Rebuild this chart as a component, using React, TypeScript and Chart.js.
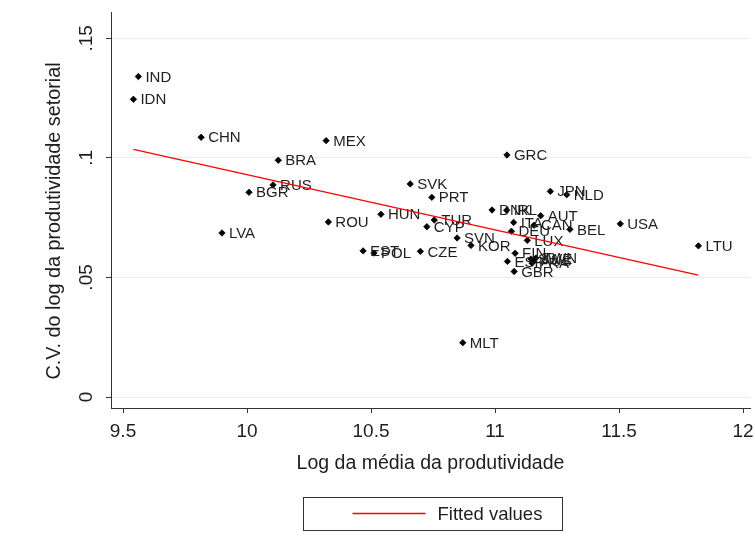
import React, { useEffect, useRef } from 'react';
import { Chart, registerables } from 'chart.js';

Chart.register(...registerables);

// ---- data ----
const countries = [
  'IND', 'IDN', 'CHN', 'MEX', 'BRA', 'RUS', 'BGR', 'LVA', 'ROU', 'SVK',
  'PRT', 'HUN', 'TUR', 'CYP', 'SVN', 'KOR', 'EST', 'POL', 'CZE', 'JPN',
  'NLD', 'DNK', 'IRL', 'AUT', 'ITA', 'CAN', 'DEU', 'BEL', 'USA', 'LUX',
  'FIN', 'ESP', 'GBR', 'SWE', 'AUS', 'FRA', 'TWN', 'GRC', 'MLT', 'LTU',
];
const logMean = [
  9.562, 9.542, 9.815, 10.319, 10.126, 10.105, 10.008, 9.899, 10.328, 10.658,
  10.745, 10.540, 10.755, 10.725, 10.847, 10.903, 10.468, 10.512, 10.699, 11.223,
  11.289, 10.988, 11.047, 11.184, 11.075, 11.157, 11.066, 11.302, 11.505, 11.130,
  11.081, 11.050, 11.077, 11.145, 11.157, 11.149, 11.165, 11.048, 10.870, 11.820,
];
const cvLog = [
  0.1340, 0.1245, 0.1086, 0.1072, 0.0990, 0.0887, 0.0856, 0.0686, 0.0732, 0.0891,
  0.0835, 0.0764, 0.0740, 0.0712, 0.0665, 0.0634, 0.0611, 0.0602, 0.0609, 0.0860,
  0.0846, 0.0782, 0.0781, 0.0758, 0.0730, 0.0718, 0.0693, 0.0701, 0.0724, 0.0655,
  0.0601, 0.0567, 0.0525, 0.0577, 0.0569, 0.0560, 0.0581, 0.1012, 0.0227, 0.0632,
];
const fitX = [9.542, 11.820];
const fitY = [0.1036, 0.0510];

const xTicks = [9.5, 10, 10.5, 11, 11.5, 12];
const xTickLabels = ['9.5', '10', '10.5', '11', '11.5', '12'];
const yTicks = [0, 0.05, 0.1, 0.15];
const yTickLabels = ['0', '.05', '.1', '.15'];

const xTitle = 'Log da média da produtividade';
const yTitle = 'C.V. do log da produtividade setorial';
const fitLabel = 'Fitted values';

// ---- styles ----
const FONT = "'Liberation Sans', Arial, Helvetica, sans-serif";
const TEXT = '#1e1e1e';
const AXIS = '#333333';
const GRID = '#e6eef0';

const overlayPlugin = {
  id: 'stataOverlay',
  afterDatasetDraw(chart: any, args: any) {
    if (args.index !== 0) return;
    const ctx = chart.ctx;
    ctx.save();
    ctx.font = `15px ${FONT}`;
    ctx.fillStyle = TEXT;
    ctx.textAlign = 'left';
    ctx.textBaseline = 'middle';
    args.meta.data.forEach((pt: any, i: number) => {
      ctx.fillText(countries[i], pt.x + 7, pt.y + 1);
    });
    ctx.restore();
  },
  afterDraw(chart: any) {
    const ctx = chart.ctx;
    const ys = chart.scales.y;
    const area = chart.chartArea;
    ctx.save();
    ctx.fillStyle = TEXT;
    // rotated y tick labels
    ctx.font = `19px ${FONT}`;
    ctx.textAlign = 'center';
    ctx.textBaseline = 'alphabetic';
    yTicks.forEach((v, i) => {
      const py = ys.getPixelForValue(v);
      ctx.save();
      ctx.translate(area.left - 19, py);
      ctx.rotate(-Math.PI / 2);
      ctx.fillText(yTickLabels[i], 0, 0);
      ctx.restore();
    });
    // y axis title
    ctx.font = `19.8px ${FONT}`;
    ctx.save();
    ctx.translate(area.left - 51, 221);
    ctx.rotate(-Math.PI / 2);
    ctx.fillText(yTitle, 0, 0);
    ctx.restore();
    // legend box
    const fit = chart.data.datasets[1];
    const bw = 259;
    const bh = 33;
    const bx = 303.5;
    const by = 497.5;
    ctx.strokeStyle = AXIS;
    ctx.lineWidth = 1;
    ctx.strokeRect(bx, by, bw, bh);
    ctx.strokeStyle = fit.borderColor;
    ctx.lineWidth = fit.borderWidth;
    ctx.beginPath();
    ctx.moveTo(bx + 49, by + 16);
    ctx.lineTo(bx + 122, by + 16);
    ctx.stroke();
    ctx.font = `18.5px ${FONT}`;
    ctx.textAlign = 'left';
    ctx.textBaseline = 'middle';
    ctx.fillText(fit.label, bx + 134, by + 17);
    ctx.restore();
  },
};

export default function App() {
  const canvasRef = useRef<HTMLCanvasElement | null>(null);

  useEffect(() => {
    const canvas = canvasRef.current;
    if (!canvas) return;
    const scatterData = logMean.map((x, i) => ({ x, y: cvLog[i] }));
    const fitData = fitX.map((x, i) => ({ x, y: fitY[i] }));

    const chart = new Chart(canvas, {
      type: 'scatter',
      data: {
        datasets: [
          {
            label: 'C.V.',
            data: scatterData,
            pointStyle: 'rectRot',
            pointRadius: 3.2,
            pointHoverRadius: 3.2,
            backgroundColor: '#000000',
            borderColor: '#000000',
            borderWidth: 0.8,
            order: 1,
          },
          {
            label: fitLabel,
            data: fitData,
            showLine: true,
            pointRadius: 0,
            borderColor: '#ff0000',
            backgroundColor: '#ff0000',
            borderWidth: 1.3,
            order: 0,
          } as any,
        ],
      },
      options: {
        responsive: false,
        animation: false,
        devicePixelRatio: 1,
        layout: { padding: { top: 12, right: 5, bottom: 65, left: 0 } },
        plugins: {
          legend: { display: false },
          tooltip: { enabled: false },
        },
        scales: {
          x: {
            type: 'linear',
            min: 9.4516,
            max: 12.028,
            afterBuildTicks: (scale: any) => {
              scale.ticks = xTicks.map((v) => ({ value: v }));
            },
            afterFit: (scale: any) => {
              scale.height = 80;
              scale.paddingLeft = 0;
              scale.paddingRight = 0;
            },
            ticks: {
              autoSkip: false,
              maxRotation: 0,
              minRotation: 0,
              padding: 7,
              color: TEXT,
              font: { family: FONT, size: 19, lineHeight: 1.2 },
              callback: (_v: any, i: number) => xTickLabels[i],
            },
            grid: {
              drawOnChartArea: false,
              drawTicks: true,
              tickLength: 5,
              tickColor: AXIS,
            },
            border: { display: true, color: AXIS, width: 1 },
            title: {
              display: true,
              text: xTitle,
              color: TEXT,
              font: { family: FONT, size: 19.5, lineHeight: 1.2 },
              padding: { top: 0, bottom: 13 },
            },
          },
          y: {
            type: 'linear',
            min: -0.0046,
            max: 0.161,
            afterBuildTicks: (scale: any) => {
              scale.ticks = yTicks.map((v) => ({ value: v }));
            },
            afterFit: (scale: any) => {
              scale.width = 111;
              scale.paddingTop = 0;
              scale.paddingBottom = 0;
            },
            ticks: { display: false },
            grid: {
              color: GRID,
              lineWidth: 1,
              drawTicks: true,
              tickLength: 5,
              tickColor: AXIS,
            },
            border: { display: true, color: AXIS, width: 1 },
          },
        },
      },
      plugins: [overlayPlugin],
    });
    return () => chart.destroy();
  }, []);

  return (
    <div style={{ position: 'absolute', left: 0, top: 0, width: 755, height: 553, background: '#ffffff' }}>
      <canvas ref={canvasRef} width={755} height={553} style={{ width: 755, height: 553, display: 'block' }} />
    </div>
  );
}
